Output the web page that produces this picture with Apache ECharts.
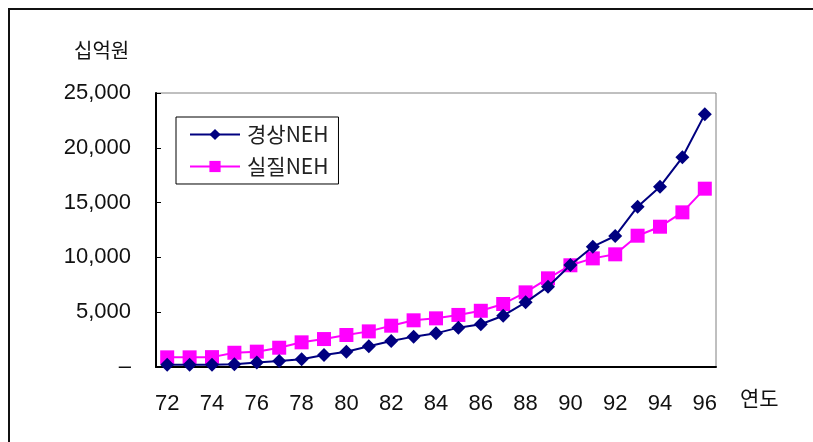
<!DOCTYPE html>
<html>
<head>
<meta charset="utf-8">
<script src="https://cdn.jsdelivr.net/npm/echarts@6/dist/echarts.min.js"></script>
<style>
  html, body { margin: 0; padding: 0; background: #fff; }
  #chart { width: 813px; height: 442px; }
</style>
</head>
<body>
<div id="chart"></div>
<script>
// Years (19xx) on the category axis
const years = ['72','73','74','75','76','77','78','79','80','81','82','83','84',
               '85','86','87','88','89','90','91','92','93','94','95','96'];
// Nominal NEH, billion won
const nominalNEH = [200, 200, 200, 240, 400, 550, 700, 1100, 1400, 1900, 2370, 2770, 3070,
                    3590, 3900, 4680, 5900, 7330, 9300, 10980, 11950, 14630, 16450, 19130, 23050];
// Real NEH, billion won
const realNEH = [880, 880, 900, 1300, 1400, 1760, 2250, 2550, 2920, 3250, 3770, 4260, 4440,
                 4750, 5130, 5750, 6810, 8090, 9280, 9910, 10280, 11980, 12800, 14110, 16270];
const seriesNames = ['경상NEH', '실질NEH'];
const yUnit = '십억원';
const xUnit = '연도';

const numFont = '"Liberation Sans Narrow", "Arial Narrow", "Liberation Sans", Arial, sans-serif';
const krFont = '"Noto Sans CJK KR", "Noto Sans", sans-serif';

const chart = echarts.init(document.getElementById('chart'), null, { renderer: 'canvas' });

chart.setOption({
  animation: false,
  backgroundColor: '#ffffff',
  grid: {
    left: 156, right: 97, top: 93, bottom: 75,
    show: true, borderColor: '#808080', borderWidth: 1, backgroundColor: 'transparent'
  },
  legend: {
    orient: 'vertical',
    left: 176, top: 117,
    padding: [7, 10, 7, 13],
    itemGap: 11,
    itemWidth: 50, itemHeight: 14,
    borderColor: '#000', borderWidth: 1,
    backgroundColor: '#fff',
    textStyle: { fontFamily: krFont, fontSize: 21, color: '#222', padding: [0, 0, 0, 2] },
    data: seriesNames
  },
  xAxis: {
    type: 'category',
    data: years,
    boundaryGap: true,
    axisLine: { lineStyle: { color: '#000', width: 2 } },
    axisTick: { inside: true, length: 7, interval: 0, lineStyle: { color: '#000', width: 1 } },
    axisLabel: {
      interval: 1, margin: 26, color: '#111',
      fontFamily: numFont, fontSize: 22
    },
    splitLine: { show: false }
  },
  yAxis: {
    type: 'value',
    min: 0, max: 25000, interval: 5000,
    axisLine: { show: true, lineStyle: { color: '#000', width: 2 } },
    axisTick: { show: true, inside: true, length: 5, lineStyle: { color: '#000', width: 1 } },
    axisLabel: {
      margin: 25, color: '#111',
      fontFamily: numFont, fontSize: 22,
      padding: [5, 0, 0, 0],
      formatter: v => v === 0 ? '–' : v.toLocaleString('en-US')
    },
    splitLine: { show: false }
  },
  series: [
    {
      name: seriesNames[0],
      type: 'line',
      data: nominalNEH,
      symbol: 'diamond', symbolSize: 14,
      itemStyle: { color: '#000080' },
      lineStyle: { color: '#000080', width: 2 },
      z: 3
    },
    {
      name: seriesNames[1],
      type: 'line',
      data: realNEH,
      symbol: 'rect', symbolSize: 14,
      itemStyle: { color: '#ff00ff' },
      lineStyle: { color: '#ff00ff', width: 2 },
      z: 2
    }
  ],
  graphic: [
    // outer frame (top and left edges)
    {
      type: 'polyline', silent: true,
      shape: { points: [[9, 442], [9, 9], [813, 9]] },
      style: { stroke: '#111', lineWidth: 2, fill: null }
    },
    {
      type: 'text', left: 74, top: 40,
      style: { text: yUnit, font: '20px ' + krFont, fill: '#111' }
    },
    {
      type: 'text', left: 740, top: 388,
      style: { text: xUnit, font: '21px ' + krFont, fill: '#111' }
    }
  ]
});
</script>
</body>
</html>
